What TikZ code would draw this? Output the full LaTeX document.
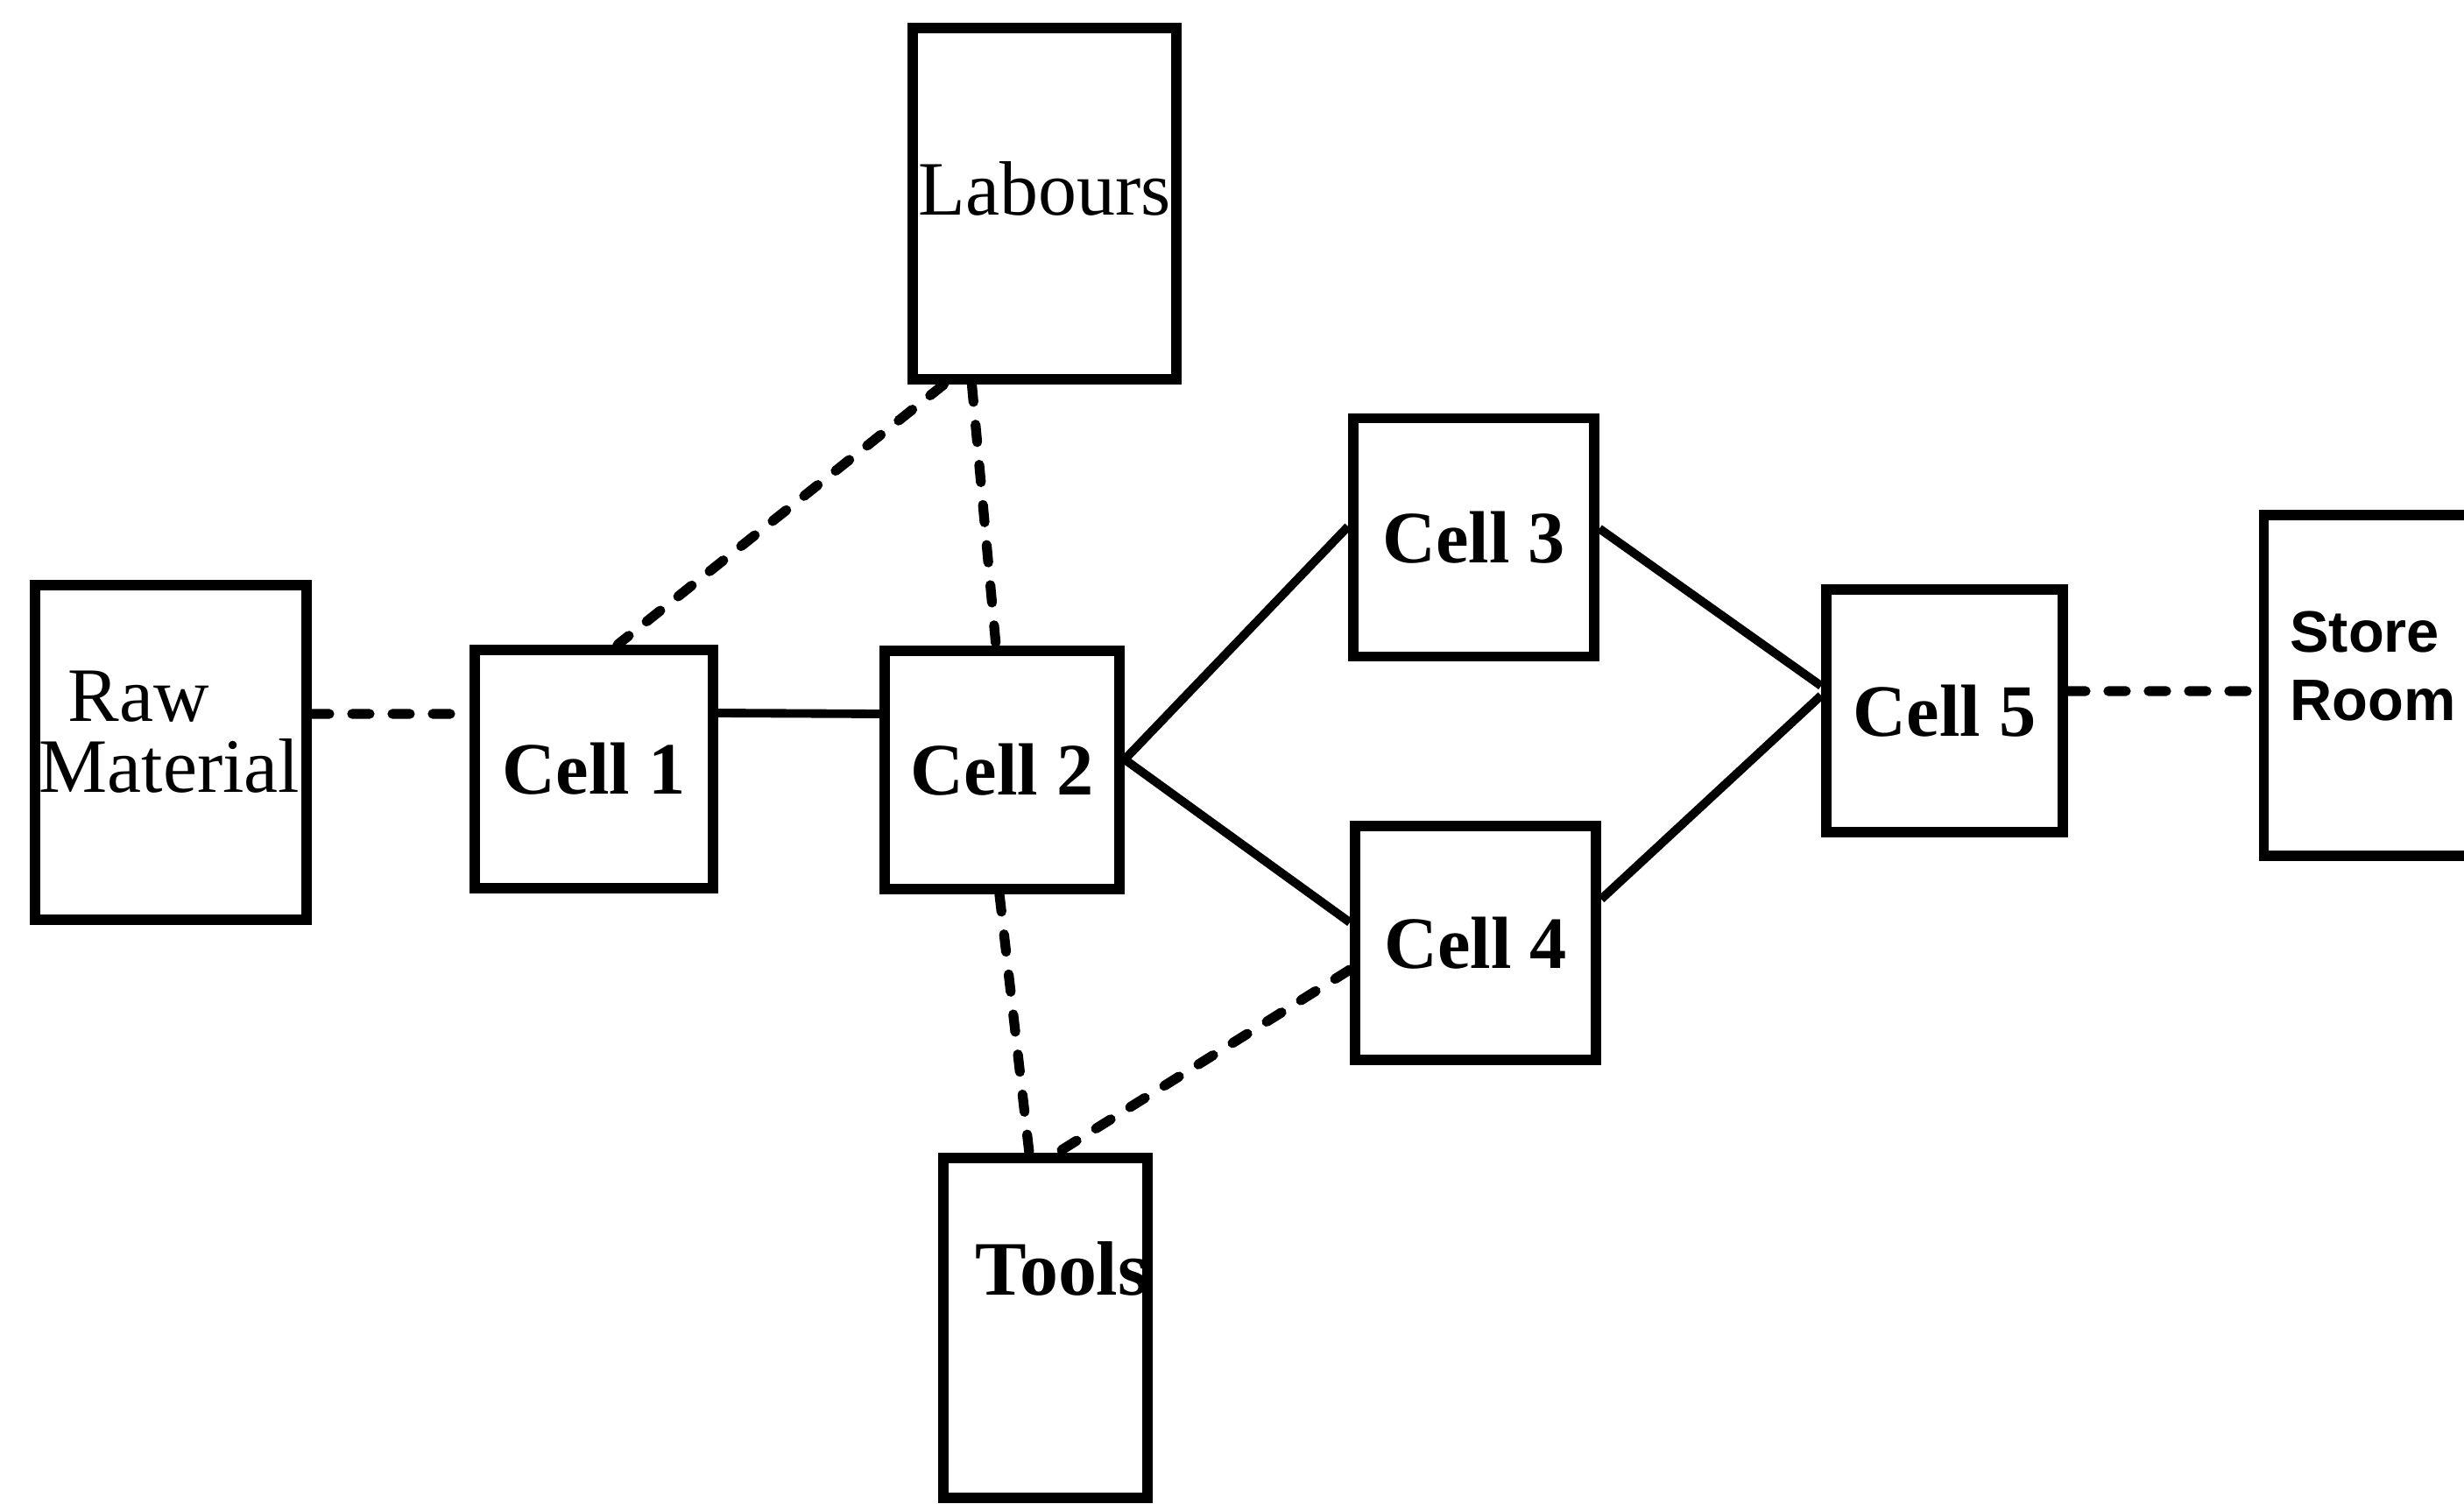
\documentclass[tikz,border=0pt]{standalone}
\usepackage{fontspec}
\setmainfont{Liberation Serif}
\newfontfamily\roomfont{Liberation Sans}

\begin{document}
\begin{tikzpicture}[
    unit/.style={rectangle, draw, line width=3.4pt, inner sep=0pt},
    cellbox/.style={unit, minimum width=2.72cm, minimum height=2.72cm,
                font=\fontsize{24}{28}\selectfont\bfseries},
    tag/.style={inner sep=0pt, font=\fontsize{25}{31}\selectfont},
    flow/.style={line width=2.8pt},
    supply/.style={line width=3.2pt, line cap=round, dash pattern=on 2mm off 2.6mm}
]
    \useasboundingbox (0,0) rectangle (28.13,17.16);
    \clip (0,0) rectangle (28.13,17.16);

    % Resources around the line
    \node[unit, minimum width=3.10cm, minimum height=3.82cm] (raw) at (1.95,8.57) {};
    \node[unit, minimum width=3.01cm, minimum height=4.01cm] (labours) at (11.925,14.835) {};
    \node[unit, minimum width=2.33cm, minimum height=3.88cm] (tools) at (11.935,2.00) {};
    \node[unit, minimum width=3.05cm, minimum height=3.89cm] (store) at (27.37,9.335) {};

    \node[tag, anchor=west, align=left, font=\fontsize{25}{23}\selectfont] (rawtext)
        at ([xshift=1mm, yshift=2.3mm]raw.west) {\hspace*{3.3mm}Raw\\Material};
    \node[tag] (labtext) at ([yshift=1.75mm]labours.center) {Labours};
    \node[tag, font=\fontsize{25}{31}\selectfont\bfseries] (tooltext)
        at ([xshift=1.85mm, yshift=6.8mm]tools.center) {Tools};
    \node[tag, anchor=west, align=left, font=\fontsize{19}{22}\selectfont\roomfont\bfseries]
        (storetext) at ([xshift=3.5mm, yshift=2.2mm]store.west) {Store\\Room};

    % Cells
    \node[cellbox] (cell1) at (6.78,8.38) {Cell 1};
    \node[cellbox, minimum width=2.68cm] (cell2) at (11.44,8.37) {Cell 2};
    \node[cellbox, minimum width=2.75cm] (cell3) at (16.825,11.025) {Cell 3};
    \node[cellbox, minimum width=2.75cm, minimum height=2.67cm] (cell4) at (16.845,6.395) {Cell 4};
    \node[cellbox, minimum width=2.70cm, minimum height=2.77cm] (cell5) at (22.20,9.045) {Cell 5};

    % Material flow
    \draw[flow] ([yshift=6.4mm]cell1.east) -- ([yshift=6.4mm]cell2.west);
    \draw[flow] ([yshift=1.2mm]cell2.east) -- ([yshift=1.25mm]cell3.west);
    \draw[flow] ([yshift=1.2mm]cell2.east) -- ([yshift=2.35mm]cell4.west);
    \draw[flow] ([yshift=1mm]cell3.east) -- ([yshift=2.85mm]cell5.west);
    \draw[flow] ([yshift=5mm]cell4.east) -- ([yshift=1.75mm]cell5.west);

    % Supply links
    \draw[supply] ([yshift=4.4mm]raw.east) -- ([yshift=6.3mm]cell1.west);
    \draw[supply] ([xshift=-11.5mm]labours.south) -- ([xshift=2.7mm]cell1.north);
    \draw[supply] ([xshift=-8.3mm]labours.south) -- ([xshift=-0.7mm]cell2.north);
    \draw[supply] ([xshift=-0.3mm]cell2.south) -- ([xshift=-1.85mm]tools.north);
    \draw[supply] ([yshift=-3.05mm]cell4.west) -- ([xshift=1.35mm]tools.north);
    \draw[supply] ([yshift=2.25mm]cell5.east) -- ([yshift=-0.65mm]store.west);
\end{tikzpicture}
\end{document}
